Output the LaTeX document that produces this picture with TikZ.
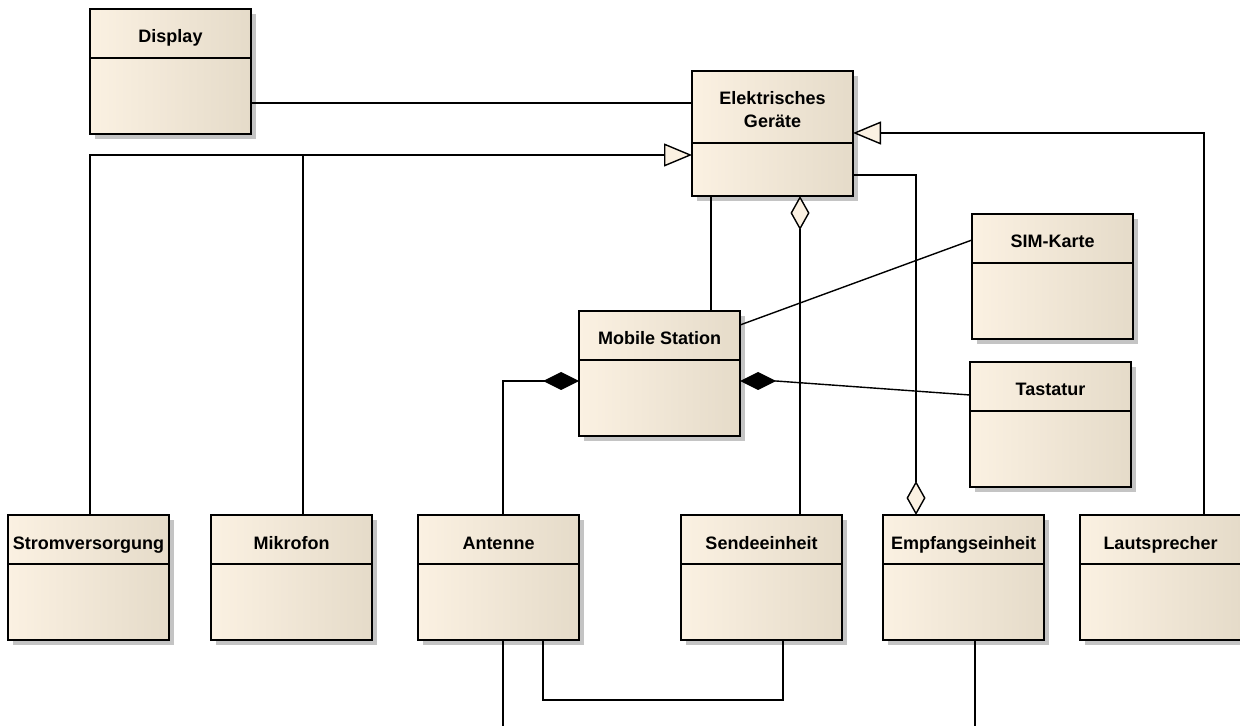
\documentclass[tikz,border=0pt]{standalone}
\usepackage{fontspec}
\setmainfont{Liberation Sans}
\usetikzlibrary{arrows.meta,shadows,positioning}
\definecolor{classlight}{HTML}{FBF1E2}
\definecolor{classdark}{HTML}{E5DBC9}
\definecolor{shadowgray}{HTML}{C4C4C4}
\tikzset{
  umlclass/.style={draw=black, line width=1pt, anchor=north west, outer sep=0pt,
    minimum width=80.5pt, minimum height=62.5pt, inner sep=0pt,
    left color=classlight, middle color=classlight, right color=classdark,
    drop shadow={shadow xshift=2.5pt, shadow yshift=-2.5pt, fill=shadowgray, opacity=1},
    path picture={\draw[line width=1pt] ([yshift=-#1]path picture bounding box.north west) -- ([yshift=-#1]path picture bounding box.north east);}},
  umlclass/.default=24.5pt,
  classtitle/.style={font=\bfseries\fontsize{9}{11.5}\selectfont, inner sep=0pt, anchor=base, align=center},
  assoc/.style={line width=0.7pt},
  general/.style={line width=0.7pt, -{Triangle[length=14pt, width=11.5pt, fill=classlight]}},
  aggreg/.style={line width=0.7pt, {Diamond[length=17pt, width=9.5pt, fill=classlight]}-},
  compos/.style={line width=0.7pt, {Diamond[length=18pt, width=9pt]}-}
}
\begin{document}
\begin{tikzpicture}[x=0.5pt, y=-0.5pt]
        \useasboundingbox (0,0) rectangle (1240,726);
        % classes
        \node[umlclass] (display) at (90,9) {};
        \node[umlclass=36pt] (geraete) at (692,71) {};
        \node[umlclass] (mobile) at (579,311) {};
        \node[umlclass] (sim) at (972,214) {};
        \node[umlclass] (tastatur) at (970,362) {};
        \node[umlclass] (strom) at (8,515) {};
        \node[umlclass] (mikrofon) at (211,515) {};
        \node[umlclass] (antenne) at (418,515) {};
        \node[umlclass] (sende) at (681,515) {};
        \node[umlclass] (empfang) at (883,515) {};
        \node[umlclass] (laut) at (1080,515) {};

        \node[classtitle] (display-t) at ([yshift=-17pt]display.north) {Display};
        \node[classtitle, anchor=center] (geraete-t) at ([yshift=-19.5pt]geraete.north) {Elektrisches\\Geräte};
        \node[classtitle] (mobile-t) at ([yshift=-17pt]mobile.north) {Mobile Station};
        \node[classtitle] (sim-t) at ([yshift=-17pt]sim.north) {SIM-Karte};
        \node[classtitle] (tastatur-t) at ([yshift=-17pt]tastatur.north) {Tastatur};
        \node[classtitle] (strom-t) at ([yshift=-17pt]strom.north) {Stromversorgung};
        \node[classtitle] (mikrofon-t) at ([yshift=-17pt]mikrofon.north) {Mikrofon};
        \node[classtitle] (antenne-t) at ([yshift=-17pt]antenne.north) {Antenne};
        \node[classtitle] (sende-t) at ([yshift=-17pt]sende.north) {Sendeeinheit};
        \node[classtitle] (empfang-t) at ([yshift=-17pt]empfang.north) {Empfangseinheit};
        \node[classtitle] (laut-t) at ([yshift=-17pt]laut.north) {Lautsprecher};

        \coordinate (genjoin) at (303,155);
        \coordinate (antenneout) at (503,732);
        \coordinate (empfangout) at (975,732);

        % generalisation
        \draw[general] (strom.north -| 90,0) |- (geraete.west |- genjoin);
        \draw[assoc] (mikrofon.north -| genjoin) -- (genjoin);
        \draw[general] (laut.north -| 1204,0) |- (geraete.east |- 0,133);

        % associations
        \draw[assoc] (display.east |- 0,103) -- (geraete.west |- 0,103);
        \draw[assoc] (geraete.south -| 711,0) -- (mobile.north -| 711,0);
        \draw[assoc] (mobile.east |- 0,325) -- (sim.west |- 0,240);
        \draw[assoc] (antenne.south -| 543,0) -- ++(0,60) -| (sende.south -| 783,0);
        \draw[assoc] (antenne.south -| antenneout) -- (antenneout);
        \draw[assoc] (empfang.south -| empfangout) -- (empfangout);

        % aggregation and composition
        \draw[aggreg] (geraete.south -| 800,0) -- (sende.north -| 800,0);
        \draw[aggreg] (empfang.north -| 916,0) |- (geraete.east |- 0,175);
        \draw[compos] (mobile.west |- 0,381) -| (antenne.north -| antenneout);
        \draw[compos] (mobile.east |- 0,381) -- ++(36,0) -- (tastatur.west |- 0,395);
\end{tikzpicture}
\end{document}
